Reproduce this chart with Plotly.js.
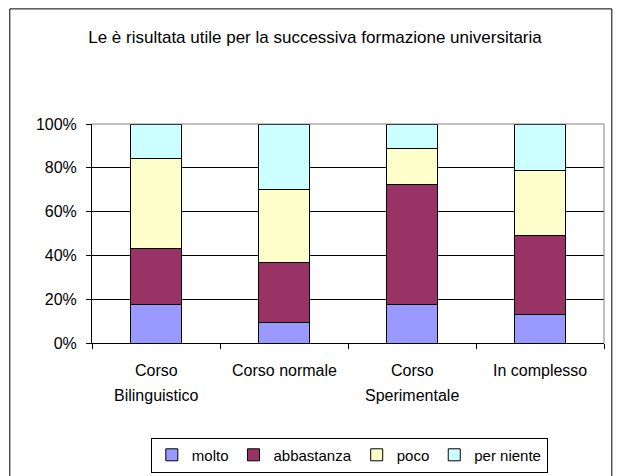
<!DOCTYPE html>
<html>
<head>
<meta charset="utf-8">
<script src="https://cdn.plot.ly/plotly-3.0.1.min.js"></script>
<style>
html, body { margin: 0; padding: 0; background: #fff; }
#chart { width: 617px; height: 476px; }
</style>
</head>
<body>
<div id="chart"></div>
<script>
// ---- data ----
const categories = ["Corso Bilinguistico", "Corso normale", "Corso Sperimentale", "In complesso"];
const labelLine1 = ["Corso", "Corso normale", "Corso", "In complesso"];
const labelLine2 = ["Bilinguistico", "", "Sperimentale", ""];
const seriesNames = ["molto", "abbastanza", "poco", "per niente"];
const molto      = [17.7,  9.2, 17.7, 13.1];
const abbastanza = [25.3, 27.6, 54.6, 36.2];
const poco       = [41.3, 33.1, 16.5, 29.3];
const perNiente  = [15.7, 30.1, 11.2, 21.4];
const yTickVals  = [0, 20, 40, 60, 80, 100];
const yTickText  = ["0%", "20%", "40%", "60%", "80%", "100%"];
const titleText  = "Le è risultata utile per la successiva formazione universitaria";

// ---- styles ----
const colors = ["#9999FF", "#993366", "#FFFFCC", "#CCFFFF"];
const FONT = "Liberation Sans, Arial, sans-serif";
const W = 617, H = 476;
const plotL = 91.7, plotR = 603.7, plotT = 124.3, plotB = 342.7;
const pw = plotR - plotL, ph = plotB - plotT;
const px = X => (X - plotL) / pw;
const py = Y => (plotB - Y) / ph;
const fnt = s => ({ family: FONT, size: s, color: "#000" });

const values = [molto, abbastanza, poco, perNiente];
const traces = values.map((v, i) => ({
  type: "bar",
  name: seriesNames[i],
  x: categories,
  y: v,
  marker: { color: colors[i], line: { color: "#000", width: 1 } },
  hoverinfo: "skip"
}));

const annotations = [];
categories.forEach((c, i) => {
  annotations.push({ x: c, xref: "x", y: py(370.5), yref: "paper", text: labelLine1[i],
    showarrow: false, xanchor: "center", yanchor: "middle", font: fnt(16) });
  if (labelLine2[i]) {
    annotations.push({ x: c, xref: "x", y: py(395.5), yref: "paper", text: labelLine2[i],
      showarrow: false, xanchor: "center", yanchor: "middle", font: fnt(16) });
  }
});

const layout = {
  width: W, height: H,
  margin: { l: plotL, r: W - plotR, t: plotT, b: H - plotB, pad: 0, autoexpand: false },
  paper_bgcolor: "#fff", plot_bgcolor: "#fff",
  font: fnt(16),
  title: { text: titleText, font: fnt(17),
    xref: "container", x: 315 / W, xanchor: "center",
    yref: "container", y: 1 - 37 / H, yanchor: "middle" },
  barmode: "stack",
  bargap: 0.594,
  showlegend: true,
  legend: { orientation: "h", traceorder: "normal",
    x: px(349), xanchor: "center", y: py(437), yanchor: "top",
    bordercolor: "#000", borderwidth: 1, bgcolor: "#fff",
    itemwidth: 30, font: fnt(15) },
  xaxis: { type: "category", showticklabels: false, tickson: "boundaries",
    ticks: "outside", ticklen: 5, tickcolor: "#000", tickwidth: 1,
    showline: true, linecolor: "#000", linewidth: 1, showgrid: false, fixedrange: true },
  yaxis: { range: [0, 100], tickvals: yTickVals, ticktext: yTickText,
    ticks: "outside", ticklen: 5, tickcolor: "#000", tickwidth: 1,
    ticklabelstandoff: 6,
    showline: true, linecolor: "#000", linewidth: 1,
    showgrid: true, gridcolor: "#000", gridwidth: 1, zeroline: false, fixedrange: true,
    tickfont: fnt(16) },
  annotations: annotations,
  shapes: [
    { type: "line", xref: "paper", yref: "paper", x0: 0, x1: 1, y0: 1, y1: 1,
      line: { color: "#808080", width: 1 }, layer: "above" },
    { type: "line", xref: "paper", yref: "paper", x0: 1, x1: 1, y0: 0, y1: 1,
      line: { color: "#808080", width: 1 }, layer: "above" },
    { type: "rect", xref: "paper", yref: "paper",
      x0: px(9.5), x1: px(611.5), y0: py(495), y1: py(9.5),
      line: { color: "#000", width: 1 }, fillcolor: "rgba(0,0,0,0)", layer: "above" }
  ]
};

Plotly.newPlot("chart", traces, layout, { staticPlot: true, displayModeBar: false });
</script>
</body>
</html>
